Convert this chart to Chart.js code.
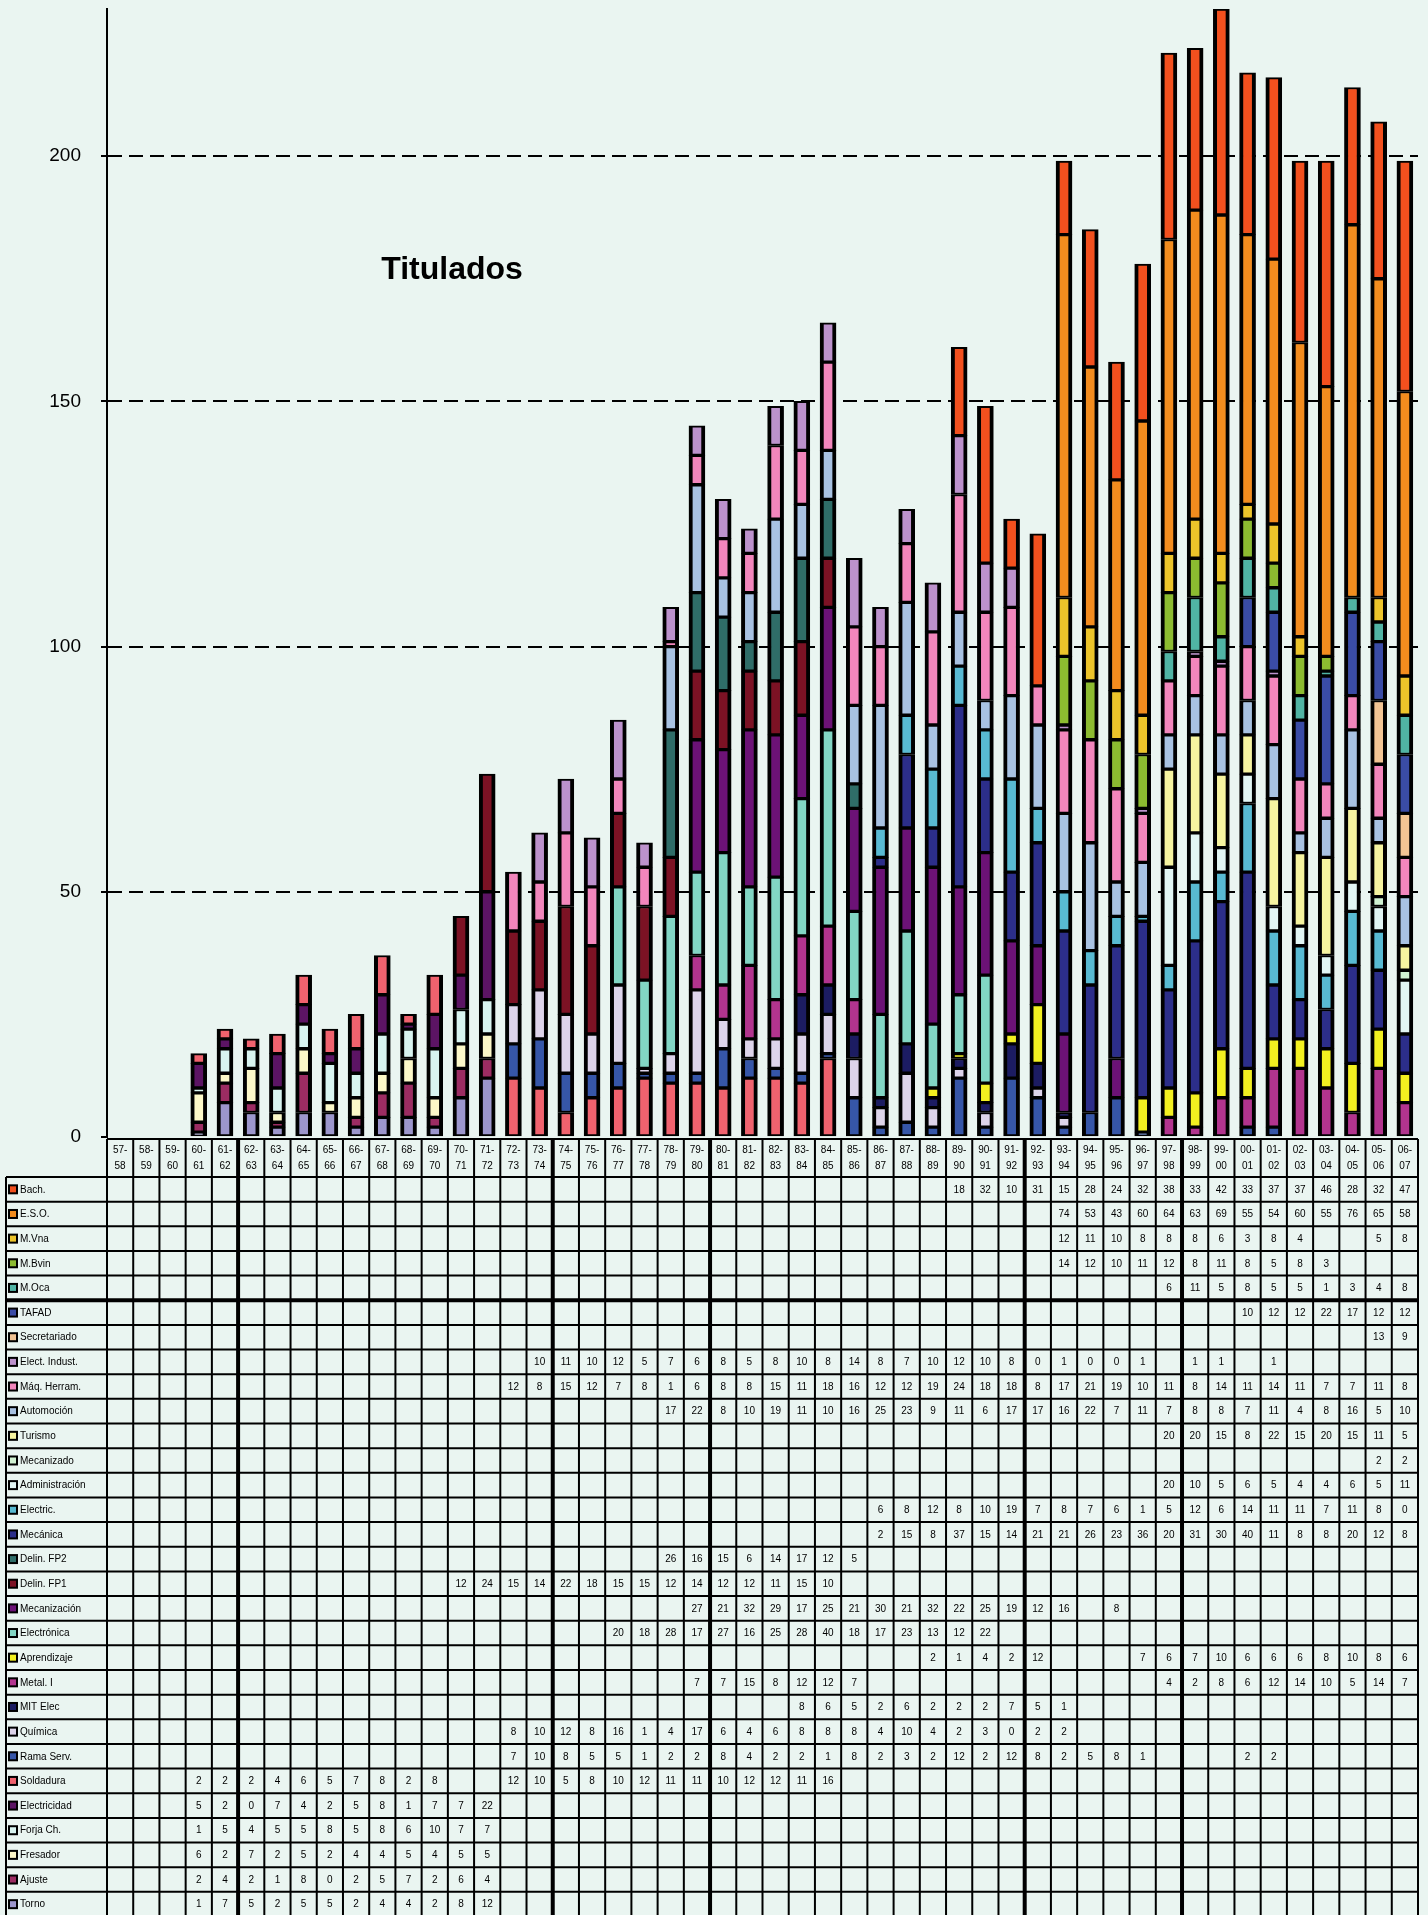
<!DOCTYPE html>
<html>
<head>
<meta charset="utf-8">
<title>Titulados</title>
<script src="https://cdn.jsdelivr.net/npm/chart.js@4/dist/chart.umd.min.js"></script>
<style>
  html, body { margin: 0; padding: 0; background: #eaf5f1; overflow: hidden; }
  canvas { display: block; }
</style>
</head>
<body>
<canvas id="chart" width="1428" height="1915"></canvas>
<script>
const _ = null

// Cursos (eje X)
const cursos = ['57-58','58-59','59-60','60-61','61-62','62-63','63-64','64-65','65-66','66-67',
  '67-68','68-69','69-70','70-71','71-72','72-73','73-74','74-75','75-76','76-77',
  '77-78','78-79','79-80','80-81','81-82','82-83','83-84','84-85','85-86','86-87',
  '87-88','88-89','89-90','90-91','91-92','92-93','93-94','94-95','95-96','96-97',
  '97-98','98-99','99-00','00-01','01-02','02-03','03-04','04-05','05-06','06-07']

const yTicks = [0, 50, 100, 150, 200]

// Titulados por enseñanza, un valor por curso (null = sin dato)
const bach = [_,_,_,_,_,_,_,_,_,_, _,_,_,_,_,_,_,_,_,_, _,_,_,_,_,_,_,_,_,_, _,_,18,32,10,31,15,28,24,32, 38,33,42,33,37,37,46,28,32,47]
const eso = [_,_,_,_,_,_,_,_,_,_, _,_,_,_,_,_,_,_,_,_, _,_,_,_,_,_,_,_,_,_, _,_,_,_,_,_,74,53,43,60, 64,63,69,55,54,60,55,76,65,58]
const mVna = [_,_,_,_,_,_,_,_,_,_, _,_,_,_,_,_,_,_,_,_, _,_,_,_,_,_,_,_,_,_, _,_,_,_,_,_,12,11,10,8, 8,8,6,3,8,4,_,_,5,8]
const mBvin = [_,_,_,_,_,_,_,_,_,_, _,_,_,_,_,_,_,_,_,_, _,_,_,_,_,_,_,_,_,_, _,_,_,_,_,_,14,12,10,11, 12,8,11,8,5,8,3,_,_,_]
const mOca = [_,_,_,_,_,_,_,_,_,_, _,_,_,_,_,_,_,_,_,_, _,_,_,_,_,_,_,_,_,_, _,_,_,_,_,_,_,_,_,_, 6,11,5,8,5,5,1,3,4,8]
const tafad = [_,_,_,_,_,_,_,_,_,_, _,_,_,_,_,_,_,_,_,_, _,_,_,_,_,_,_,_,_,_, _,_,_,_,_,_,_,_,_,_, _,_,_,10,12,12,22,17,12,12]
const secretariado = [_,_,_,_,_,_,_,_,_,_, _,_,_,_,_,_,_,_,_,_, _,_,_,_,_,_,_,_,_,_, _,_,_,_,_,_,_,_,_,_, _,_,_,_,_,_,_,_,13,9]
const electIndust = [_,_,_,_,_,_,_,_,_,_, _,_,_,_,_,_,10,11,10,12, 5,7,6,8,5,8,10,8,14,8, 7,10,12,10,8,0,1,0,0,1, _,1,1,_,1,_,_,_,_,_]
const maqHerram = [_,_,_,_,_,_,_,_,_,_, _,_,_,_,_,12,8,15,12,7, 8,1,6,8,8,15,11,18,16,12, 12,19,24,18,18,8,17,21,19,10, 11,8,14,11,14,11,7,7,11,8]
const automocion = [_,_,_,_,_,_,_,_,_,_, _,_,_,_,_,_,_,_,_,_, _,17,22,8,10,19,11,10,16,25, 23,9,11,6,17,17,16,22,7,11, 7,8,8,7,11,4,8,16,5,10]
const turismo = [_,_,_,_,_,_,_,_,_,_, _,_,_,_,_,_,_,_,_,_, _,_,_,_,_,_,_,_,_,_, _,_,_,_,_,_,_,_,_,_, 20,20,15,8,22,15,20,15,11,5]
const mecanizado = [_,_,_,_,_,_,_,_,_,_, _,_,_,_,_,_,_,_,_,_, _,_,_,_,_,_,_,_,_,_, _,_,_,_,_,_,_,_,_,_, _,_,_,_,_,_,_,_,2,2]
const administracion = [_,_,_,_,_,_,_,_,_,_, _,_,_,_,_,_,_,_,_,_, _,_,_,_,_,_,_,_,_,_, _,_,_,_,_,_,_,_,_,_, 20,10,5,6,5,4,4,6,5,11]
const electric = [_,_,_,_,_,_,_,_,_,_, _,_,_,_,_,_,_,_,_,_, _,_,_,_,_,_,_,_,_,6, 8,12,8,10,19,7,8,7,6,1, 5,12,6,14,11,11,7,11,8,0]
const mecanica = [_,_,_,_,_,_,_,_,_,_, _,_,_,_,_,_,_,_,_,_, _,_,_,_,_,_,_,_,_,2, 15,8,37,15,14,21,21,26,23,36, 20,31,30,40,11,8,8,20,12,8]
const delinFP2 = [_,_,_,_,_,_,_,_,_,_, _,_,_,_,_,_,_,_,_,_, _,26,16,15,6,14,17,12,5,_, _,_,_,_,_,_,_,_,_,_, _,_,_,_,_,_,_,_,_,_]
const delinFP1 = [_,_,_,_,_,_,_,_,_,_, _,_,_,12,24,15,14,22,18,15, 15,12,14,12,12,11,15,10,_,_, _,_,_,_,_,_,_,_,_,_, _,_,_,_,_,_,_,_,_,_]
const mecanizacion = [_,_,_,_,_,_,_,_,_,_, _,_,_,_,_,_,_,_,_,_, _,_,27,21,32,29,17,25,21,30, 21,32,22,25,19,12,16,_,8,_, _,_,_,_,_,_,_,_,_,_]
const electronica = [_,_,_,_,_,_,_,_,_,_, _,_,_,_,_,_,_,_,_,20, 18,28,17,27,16,25,28,40,18,17, 23,13,12,22,_,_,_,_,_,_, _,_,_,_,_,_,_,_,_,_]
const aprendizaje = [_,_,_,_,_,_,_,_,_,_, _,_,_,_,_,_,_,_,_,_, _,_,_,_,_,_,_,_,_,_, _,2,1,4,2,12,_,_,_,7, 6,7,10,6,6,6,8,10,8,6]
const metal = [_,_,_,_,_,_,_,_,_,_, _,_,_,_,_,_,_,_,_,_, _,_,7,7,15,8,12,12,7,_, _,_,_,_,_,_,_,_,_,_, 4,2,8,6,12,14,10,5,14,7]
const mitElec = [_,_,_,_,_,_,_,_,_,_, _,_,_,_,_,_,_,_,_,_, _,_,_,_,_,_,8,6,5,2, 6,2,2,2,7,5,1,_,_,_, _,_,_,_,_,_,_,_,_,_]
const quimica = [_,_,_,_,_,_,_,_,_,_, _,_,_,_,_,8,10,12,8,16, 1,4,17,6,4,6,8,8,8,4, 10,4,2,3,0,2,2,_,_,_, _,_,_,_,_,_,_,_,_,_]
const ramaServ = [_,_,_,_,_,_,_,_,_,_, _,_,_,_,_,7,10,8,5,5, 1,2,2,8,4,2,2,1,8,2, 3,2,12,2,12,8,2,5,8,1, _,_,_,2,2,_,_,_,_,_]
const soldadura = [_,_,_,2,2,2,4,6,5,7, 8,2,8,_,_,12,10,5,8,10, 12,11,11,10,12,12,11,16,_,_, _,_,_,_,_,_,_,_,_,_, _,_,_,_,_,_,_,_,_,_]
const electricidad = [_,_,_,5,2,0,7,4,2,5, 8,1,7,7,22,_,_,_,_,_, _,_,_,_,_,_,_,_,_,_, _,_,_,_,_,_,_,_,_,_, _,_,_,_,_,_,_,_,_,_]
const forja = [_,_,_,1,5,4,5,5,8,5, 8,6,10,7,7,_,_,_,_,_, _,_,_,_,_,_,_,_,_,_, _,_,_,_,_,_,_,_,_,_, _,_,_,_,_,_,_,_,_,_]
const fresador = [_,_,_,6,2,7,2,5,2,4, 4,5,4,5,5,_,_,_,_,_, _,_,_,_,_,_,_,_,_,_, _,_,_,_,_,_,_,_,_,_, _,_,_,_,_,_,_,_,_,_]
const ajuste = [_,_,_,2,4,2,1,8,0,2, 5,7,2,6,4,_,_,_,_,_, _,_,_,_,_,_,_,_,_,_, _,_,_,_,_,_,_,_,_,_, _,_,_,_,_,_,_,_,_,_]
const torno = [_,_,_,1,7,5,2,5,5,2, 4,4,2,8,12,_,_,_,_,_, _,_,_,_,_,_,_,_,_,_, _,_,_,_,_,_,_,_,_,_, _,_,_,_,_,_,_,_,_,_]

// Filas de la tabla, en el orden en que aparecen (la primera queda arriba de la pila)
const rows = [
  { label: 'Bach.', data: bach, color: '#f2501e' },
  { label: 'E.S.O.', data: eso, color: '#f28c1e' },
  { label: 'M.Vna', data: mVna, color: '#ecc42a' },
  { label: 'M.Bvin', data: mBvin, color: '#8cbb30' },
  { label: 'M.Oca', data: mOca, color: '#50b4a4' },
  { label: 'TAFAD', data: tafad, color: '#3a4ca6' },
  { label: 'Secretariado', data: secretariado, color: '#f2c494' },
  { label: 'Elect. Indust.', data: electIndust, color: '#bc92cc' },
  { label: 'Máq. Herram.', data: maqHerram, color: '#f286bc' },
  { label: 'Automoción', data: automocion, color: '#a8c2e2' },
  { label: 'Turismo', data: turismo, color: '#f6f4a0' },
  { label: 'Mecanizado', data: mecanizado, color: '#d0f2d2' },
  { label: 'Administración', data: administracion, color: '#e2f6f4' },
  { label: 'Electric.', data: electric, color: '#58bad2' },
  { label: 'Mecánica', data: mecanica, color: '#2c2e8a' },
  { label: 'Delin. FP2', data: delinFP2, color: '#2f6d68' },
  { label: 'Delin. FP1', data: delinFP1, color: '#7c1224' },
  { label: 'Mecanización', data: mecanizacion, color: '#6c1276' },
  { label: 'Electrónica', data: electronica, color: '#82d6c4' },
  { label: 'Aprendizaje', data: aprendizaje, color: '#f2f020' },
  { label: 'Metal. I', data: metal, color: '#b2348e' },
  { label: 'MIT Elec', data: mitElec, color: '#1c1c62' },
  { label: 'Química', data: quimica, color: '#ddd4ea' },
  { label: 'Rama Serv.', data: ramaServ, color: '#3656a8' },
  { label: 'Soldadura', data: soldadura, color: '#f0626e' },
  { label: 'Electricidad', data: electricidad, color: '#5c1464' },
  { label: 'Forja Ch.', data: forja, color: '#d8f4f0' },
  { label: 'Fresador', data: fresador, color: '#fcf8c8' },
  { label: 'Ajuste', data: ajuste, color: '#9c2c62' },
  { label: 'Torno', data: torno, color: '#9c96cc' }
]

const FONT = '"Liberation Sans", Arial, sans-serif'

const background = {
  id: 'background',
  beforeDraw(chart) {
    const ctx = chart.ctx
    ctx.save()
    ctx.fillStyle = '#eaf5f1'
    ctx.fillRect(0, 0, chart.width, chart.height)
    ctx.restore()
  }
}

const titlePlugin = {
  id: 'innerTitle',
  afterDraw(chart) {
    const ctx = chart.ctx
    ctx.save()
    ctx.fillStyle = '#000'
    ctx.font = 'bold 32px ' + FONT
    ctx.textAlign = 'center'
    ctx.textBaseline = 'alphabetic'
    ctx.fillText('Titulados', chart.chartArea.left + 345, 279)
    ctx.restore()
  }
}

// Tabla de datos bajo el grafico, alineada con la escala X
const tablePlugin = {
  id: 'dataTable',
  afterDraw(chart) {
    const { ctx, chartArea } = chart
    const x = chart.scales.x
    const colW = x.getPixelForValue(1) - x.getPixelForValue(0)
    const left = chartArea.left
    const right = chartArea.right
    const top = chartArea.bottom + 2
    const headH = 38
    const rowH = 24.65
    const bodyTop = top + headH
    const labelLeft = 6
    const bottom = bodyTop + rows.length * rowH
    const thickCols = [5, 17, 23, 35, 41]

    ctx.save()
    ctx.fillStyle = '#000'
    ctx.textBaseline = 'middle'
    ctx.textAlign = 'center'
    ctx.font = '10px ' + FONT
    cursos.forEach((c, i) => {
      const cx = x.getPixelForValue(i)
      const p = c.split('-')
      ctx.fillText(p[0] + '-', cx, top + 11)
      ctx.fillText(p[1], cx, top + 27)
    })

    rows.forEach((row, r) => {
      const cy = bodyTop + r * rowH + rowH / 2
      ctx.fillStyle = '#000'
      ctx.textAlign = 'center'
      row.data.forEach((v, i) => {
        if (v === null) return
        ctx.fillText(String(v), x.getPixelForValue(i), cy + 0.5)
      })
      ctx.fillStyle = row.color
      ctx.fillRect(9, cy - 4, 8, 8)
      ctx.lineWidth = 2
      ctx.strokeStyle = '#000'
      ctx.strokeRect(9, cy - 4, 8, 8)
      ctx.fillStyle = '#000'
      ctx.textAlign = 'left'
      ctx.fillText(row.label, 20, cy + 0.5)
    })

    const line = (x1, y1, x2, y2, w) => {
      ctx.lineWidth = w
      ctx.strokeStyle = '#000'
      ctx.beginPath()
      ctx.moveTo(x1, y1)
      ctx.lineTo(x2, y2)
      ctx.stroke()
    }
    line(left, top, right, top, 2)
    for (let r = 0; r <= rows.length; r++) {
      const yy = bodyTop + r * rowH
      line(labelLeft, yy, right, yy, r === 5 ? 4 : 2)
    }
    for (let c = 0; c <= cursos.length; c++) {
      const bx = left + c * colW
      line(bx, top, bx, bottom, thickCols.includes(c) ? 4 : 2)
    }
    line(labelLeft, bodyTop, labelLeft, bottom, 2)
    ctx.restore()
  }
}

new Chart(document.getElementById('chart'), {
  type: 'bar',
  data: {
    labels: cursos,
    datasets: rows.slice().reverse().map(r => ({
      label: r.label,
      data: r.data,
      backgroundColor: r.color,
      borderColor: '#000',
      borderWidth: { top: 2, bottom: 2, left: 4, right: 4 },
      borderSkipped: false,
      barThickness: 16
    }))
  },
  options: {
    responsive: false,
    animation: false,
    devicePixelRatio: 1,
    layout: { padding: { top: 9, right: 10, bottom: 778, left: 0 } },
    plugins: {
      legend: { display: false },
      tooltip: { enabled: false }
    },
    scales: {
      x: { stacked: true, display: false },
      y: {
        stacked: true,
        min: 0,
        max: 230,
        afterBuildTicks: s => { s.ticks = yTicks.map(v => ({ value: v })) },
        afterFit: s => { s.width = 107; s.paddingTop = 0; s.paddingBottom = 0 },
        grid: {
          color: c => (c.tick && c.tick.value === 0 ? 'rgba(0,0,0,0)' : '#000'),
          lineWidth: 2,
          tickLength: 6,
          tickColor: '#000',
          tickWidth: 2
        },
        border: { display: true, color: '#000', width: 2, dash: [14, 7] },
        ticks: {
          color: '#000',
          padding: 20,
          font: { family: '"Liberation Sans Narrow", "Liberation Sans", Arial, sans-serif', size: 19 }
        }
      }
    }
  },
  plugins: [background, titlePlugin, tablePlugin]
})
</script>
</body>
</html>
